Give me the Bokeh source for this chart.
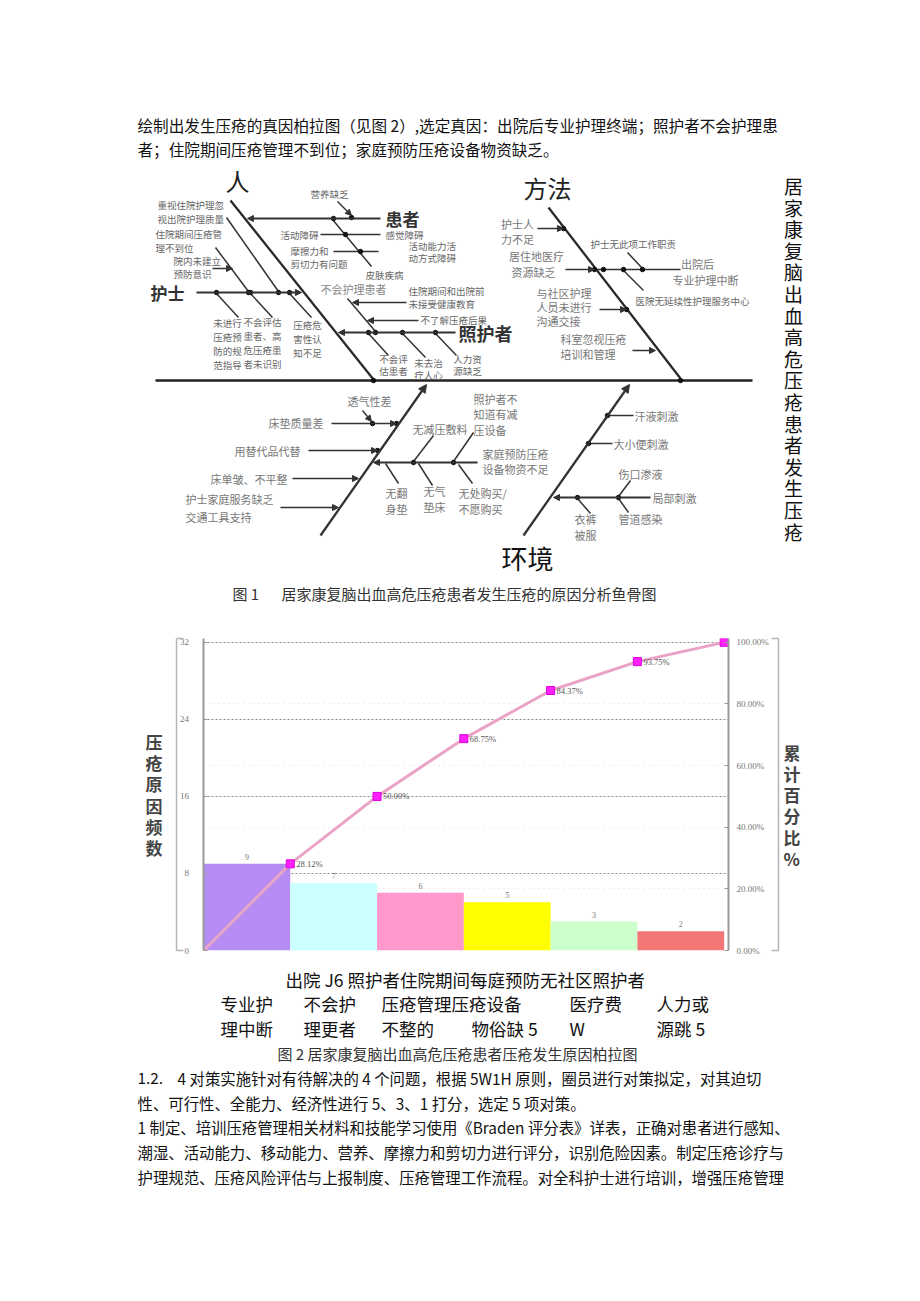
from bokeh.plotting import figure
from bokeh.layouts import column
from bokeh.models import (Range1d, LinearAxis, FixedTicker, PrintfTickFormatter,
                          Arrow, NormalHead, Grid)
from bokeh.core.properties import value
from bokeh.embed import file_html
from bokeh.resources import INLINE

CJK = "Noto Sans CJK SC"
SERIF = "Liberation Serif"

# ---------------- data ----------------
counts = [9, 7, 6, 5, 3, 2]
cum_pct = [28.12, 50.00, 68.75, 84.37, 93.75, 100.00]
cum_labels = ["28.12%", "50.00%", "68.75%", "84.37%", "93.75%", "100.00%"]
bar_colors = ["#b48cf2", "#ccffff", "#ff99cc", "#ffff00", "#ccffcc", "#f47777"]
left_ticks = [0, 8, 16, 24, 32]
right_ticks = [0, 20, 40, 60, 80, 100]
cat_row1 = "出院 J6 照护者住院期间每庭预防无社区照护者"
cat_row2 = ["专业护", "不会护", "压疮管理压疮设备", "医疗费", "人力或"]
cat_row3 = ["理中断", "理更者", "不整的", "物俗缺 5", "W", "源跳 5"]
left_title = "压疮原因频数"
right_title = "累计百分比%"

top_lines = ["绘制出发生压疮的真因柏拉图（见图 2）,选定真因：出院后专业护理终端；照护者不会护理患",
             "者；住院期间压疮管理不到位；家庭预防压疮设备物资缺乏。"]
fig1_caption = ["图 1", "居家康复脑出血高危压疮患者发生压疮的原因分析鱼骨图"]
fig2_caption = "图 2 居家康复脑出血高危压疮患者压疮发生原因柏拉图"
side_title = "居家康复脑出血高危压疮患者发生压疮"
bottom_lines = ["性、可行性、全能力、经济性进行 5、3、1 打分，选定 5 项对策。",
                "1 制定、培训压疮管理相关材料和技能学习使用《Braden 评分表》详表，正确对患者进行感知、",
                "潮湿、活动能力、移动能力、营养、摩擦力和剪切力进行评分，识别危险因素。制定压疮诊疗与",
                "护理规范、压疮风险评估与上报制度、压疮管理工作流程。对全科护士进行培训，增强压疮管理"]
bottom_first = ["1.2.", "4 对策实施针对有待解决的 4 个问题，根据 5W1H 原则，圈员进行对策拟定，对其迫切"]

W = 904


def canvas(top, bottom):
    p = figure(width=W, height=bottom - top, x_range=Range1d(0, W),
               y_range=Range1d(bottom, top), output_backend="svg",
               toolbar_location=None, x_axis_location=None, y_axis_location=None,
               min_border=0, outline_line_color=None, background_fill_color="white",
               frame_align=False)
    p.grid.visible = False
    return p


def txt(p, x, y, s, size, color="#111", align="left", bold=False, font=CJK):
    p.text(x=[x], y=[y], text=[s], text_font=value(font), text_font_size=f"{size}px",
           text_color=color, text_align=align, text_baseline="middle",
           text_font_style="bold" if bold else "normal")


def arrow(p, x0, y0, x1, y1, w=1.6, size=6):
    p.add_layout(Arrow(end=NormalHead(size=size, fill_color="#333", line_color="#333"),
                       x_start=x0, y_start=y0, x_end=x1, y_end=y1,
                       line_color="#333", line_width=w))


# ================= top part: text + fishbone =================
pa = canvas(0, 628)
txt(pa, 137, 124, top_lines[0], 15.6)
txt(pa, 137, 148, top_lines[1], 15.6)

# spine and bones
pa.segment(x0=[155], y0=[380], x1=[752], y1=[380], line_color="#222", line_width=2.6)
pa.segment(x0=[230, 548], y0=[200, 207], x1=[373, 680], y1=[379, 378],
           line_color="#2a2a2a", line_width=2.3)
arrow(pa, 320, 535, 426, 384, w=2.3, size=8)
arrow(pa, 523, 535, 629, 384, w=2.3, size=8)

# branches with arrowheads
for a in [(380, 218, 247, 218), (196, 292, 301, 292), (455, 332, 338, 332),
          (212, 268, 232, 268), (406, 302, 352, 302), (418, 320, 367, 320),
          (337, 201, 351, 215), (537, 228, 563, 228), (565, 269, 594, 269),
          (599, 309, 626, 309), (632, 350, 655, 350), (362, 410, 371, 421),
          (331, 423, 396, 423), (308, 450, 377, 450), (292, 478, 358, 478),
          (280, 507, 338, 507), (477, 462, 373, 462), (650, 497, 553, 497)]:
    arrow(pa, *a, w=1.8 if a[1] == a[3] and abs(a[2] - a[0]) > 80 else 1.4, size=6)

segs = [(332, 219, 371, 266), (320, 234, 380, 234), (333, 251, 378, 251),
        (226, 217, 278, 291), (215, 247, 248, 291),
        (216, 293, 238, 317), (250, 293, 272, 317), (289, 293, 311, 317),
        (347, 298, 375, 331),
        (368, 333, 388, 355), (402, 333, 425, 357), (435, 333, 456, 355),
        (596, 269, 680, 269), (627, 252, 642, 268), (623, 270, 643, 290),
        (433, 435, 413, 461), (473, 432, 453, 461),
        (385, 463, 398, 483), (418, 463, 432, 485), (458, 464, 472, 483),
        (607, 415, 633, 415), (588, 443, 612, 443),
        (630, 480, 618, 496), (618, 498, 628, 512), (577, 498, 590, 513)]
pa.segment(x0=[s[0] for s in segs], y0=[s[1] for s in segs],
           x1=[s[2] for s in segs], y1=[s[3] for s in segs],
           line_color="#333", line_width=1.5)

dots = [(373, 380), (680, 380), (351, 217), (345, 234), (360, 251), (278, 292), (248, 292),
        (216, 292), (250, 292), (289, 292), (375, 332), (368, 332), (402, 332), (435, 332),
        (563, 228), (594, 269), (603, 269), (623, 269), (642, 269), (626, 309),
        (372, 423), (396, 423), (377, 450), (413, 462), (453, 462), (607, 415),
        (588, 443), (618, 497), (577, 497), (333, 218)]
pa.scatter(x=[d[0] for d in dots], y=[d[1] for d in dots], size=4.5, color="#111")

# big category titles
txt(pa, 237, 180, "人", 24, "#222", "center")
txt(pa, 547, 187, "方法", 24, "#222", "center")
txt(pa, 527, 557, "环境", 26, "#111", "center")
txt(pa, 385, 218, "患者", 17, "#333", bold=True)
txt(pa, 150, 292, "护士", 17, "#333", bold=True)
txt(pa, 458, 332, "照护者", 18, "#333", bold=True)
txt(pa, 320, 288, "不会护理患者", 11, "#888")

G = "#666"
small = [
    ("营养缺乏", 310, 193, "left"), ("活动障碍", 318, 234, "right"), ("感觉障碍", 385, 234, "left"),
    ("摩擦力和", 290, 250, "left"), ("剪切力有问题", 290, 263, "left"),
    ("活动能力活", 408, 245, "left"), ("动方式障碍", 408, 257, "left"),
    ("皮肤疾病", 365, 274, "left"),
    ("重视住院护理忽", 157, 204, "left"), ("视出院护理质量", 157, 218, "left"),
    ("住院期间压疮管", 155, 233, "left"), ("理不到位", 155, 247, "left"),
    ("院内未建立", 173, 260, "left"), ("预防意识", 173, 273, "left"),
    ("未进行", 227, 322, "center"), ("压疮预", 227, 336, "center"),
    ("防的规", 227, 350, "center"), ("范指导", 227, 364, "center"),
    ("不会评估", 262, 321, "center"), ("患者、高", 262, 335, "center"),
    ("危压疮患", 262, 349, "center"), ("者未识别", 262, 363, "center"),
    ("压疮危", 307, 324, "center"), ("害性认", 307, 338, "center"), ("知不足", 307, 352, "center"),
    ("住院期间和出院前", 408, 290, "left"), ("未接受健康教育", 408, 303, "left"),
    ("不了解压疮后果", 420, 319, "left"),
    ("不会评", 393, 358, "center"), ("估患者", 393, 370, "center"),
    ("未去治", 428, 362, "center"), ("疗人心", 428, 374, "center"),
    ("人力资", 467, 358, "center"), ("源缺乏", 467, 370, "center"),
    ("护士无此项工作职责", 590, 243, "left"), ("医院无延续性护理服务中心", 635, 300, "left"),
]
for s, x, y, al in small:
    txt(pa, x, y, s, 9.5, G, al)

mid = [
    ("护士人", 517, 223, "center"), ("力不足", 517, 238, "center"),
    ("居住地医疗", 536, 255, "center"), ("资源缺乏", 533, 271, "center"),
    ("出院后", 697, 263, "center"), ("专业护理中断", 705, 279, "center"),
    ("与社区护理", 536, 292, "left"), ("人员未进行", 536, 306, "left"), ("沟通交接", 536, 320, "left"),
    ("科室忽视压疮", 560, 338, "left"), ("培训和管理", 560, 353, "left"),
    ("透气性差", 347, 400, "left"), ("床垫质量差", 323, 422, "right"),
    ("用替代品代替", 300, 450, "right"), ("床单皱、不平整", 287, 478, "right"),
    ("护士家庭服务缺乏", 185, 498, "left"), ("交通工具支持", 185, 516, "left"),
    ("无减压敷料", 412, 428, "left"),
    ("照护者不", 473, 398, "left"), ("知道有减", 473, 413, "left"), ("压设备", 473, 429, "left"),
    ("家庭预防压疮", 482, 453, "left"), ("设备物资不足", 482, 468, "left"),
    ("无翻", 396, 492, "center"), ("身垫", 396, 508, "center"),
    ("无气", 434, 490, "center"), ("垫床", 434, 506, "center"),
    ("无处购买/", 458, 492, "left"), ("不愿购买", 458, 508, "left"),
    ("汗液刺激", 634, 415, "left"), ("大小便刺激", 613, 443, "left"),
    ("局部刺激", 652, 497, "left"), ("伤口渗液", 618, 473, "left"),
    ("管道感染", 618, 518, "left"), ("衣裤", 585, 518, "center"), ("被服", 585, 534, "center"),
]
for s, x, y, al in mid:
    txt(pa, x, y, s, 11, "#777", al)

# vertical side title
for i, ch in enumerate(side_title):
    txt(pa, 793, 185 + i * 21.6, ch, 19, "#111", "center")

txt(pa, 232, 593, fig1_caption[0], 15, "#333")
txt(pa, 281, 593, fig1_caption[1], 15, "#333")

# ================= Pareto chart =================
# frame: page x 203..728, page y 638..950
pb = figure(width=W, height=338, x_range=Range1d(0, 6.05), y_range=Range1d(0, 32.4),
            output_backend="svg", toolbar_location=None, x_axis_location=None,
            min_border_left=203, min_border_right=W - 728, min_border_top=10, min_border_bottom=16,
            outline_line_color=None, frame_align=False)
pb.extra_y_ranges = {"pct": Range1d(0, 32.4 / 32 * 100)}

ax = pb.yaxis[0]
ax.ticker = FixedTicker(ticks=left_ticks)
ax.formatter = PrintfTickFormatter(format="  %d")
raxis = LinearAxis(y_range_name="pct", ticker=FixedTicker(ticks=right_ticks),
                   formatter=PrintfTickFormatter(format="%.2f%%   "))
pb.add_layout(raxis, "right")
for a in (ax, raxis):
    a.axis_line_color = "#9a9a9a"
    a.axis_line_width = 2
    a.major_tick_in = 4
    a.major_tick_out = 0
    a.major_tick_line_color = "#999"
    a.minor_tick_line_color = None
    a.major_label_text_font = SERIF
    a.major_label_text_font_size = "9px"
    a.major_label_text_color = "#777"
    a.major_label_standoff = 8
ax.major_label_standoff = 10

# outer axes: draw the light bracket frame and carry the stacked titles
outer_l = LinearAxis(ticker=FixedTicker(ticks=[0, 32.4]), axis_label="\n".join(left_title))
outer_r = LinearAxis(ticker=FixedTicker(ticks=[0, 32.4]), axis_label="\n" + "\n".join(right_title))
pb.add_layout(outer_l, "left")
pb.add_layout(outer_r, "right")
for a, so in ((outer_l, 14), (outer_r, 5)):
    a.axis_line_color = "#b5b5b5"
    a.axis_line_width = 1.5
    a.major_tick_in = 7
    a.major_tick_out = 0
    a.major_tick_line_color = "#b5b5b5"
    a.major_tick_line_width = 1.5
    a.minor_tick_line_color = None
    a.major_label_overrides = {0: "", 32.4: ""}
    a.major_label_standoff = 0
    a.axis_label_orientation = "horizontal"
    a.axis_label_text_font = CJK
    a.axis_label_text_font_size = "17px"
    a.axis_label_text_font_style = "bold"
    a.axis_label_text_color = "#444"
    a.axis_label_text_line_height = 0.85
    a.axis_label_standoff = so

pb.xgrid.visible = False
pb.ygrid.ticker = FixedTicker(ticks=left_ticks)
pb.ygrid.grid_line_color = "#888"
pb.ygrid.grid_line_dash = "2 2"
pb.ygrid.grid_line_width = 1
pb.add_layout(Grid(dimension=1, ticker=FixedTicker(ticks=[20, 40, 60, 80]), y_range_name="pct",
                   grid_line_color="#dddddd", grid_line_dash="1 4"))

centers = [i + 0.5 for i in range(len(counts))]
pb.vbar(x=centers, top=counts, width=1.0, fill_color=bar_colors, line_color=None)
pb.text(x=centers, y=counts, text=[str(c) for c in counts], text_align="center",
        text_baseline="bottom", y_offset=-4, text_font=value(SERIF),
        text_font_size="8px", text_color="#777")

edges = list(range(len(counts) + 1))
pb.line(x=edges, y=[0] + cum_pct, y_range_name="pct", line_color="#eaa2c6", line_width=3)
pb.scatter(x=edges[1:], y=cum_pct, y_range_name="pct", marker="square", size=8,
           fill_color="#ff22ff", line_color="#dd00dd")
pb.text(x=edges[1:-1], y=cum_pct[:-1], text=cum_labels[:-1], y_range_name="pct",
        x_offset=6, text_baseline="middle", text_font=value(SERIF),
        text_font_size="8.5px", text_color="#555")

# ================= bottom part =================
pc = canvas(966, 1293)
txt(pc, 285, 979, cat_row1, 17.5, "#111")
for s, x in zip(cat_row2, [220, 303, 381, 569, 656]):
    txt(pc, x, 1003, s, 17.5, "#111")
for s, x in zip(cat_row3, [220, 303, 381, 471, 569, 656]):
    txt(pc, x, 1028, s, 17.5, "#111")
txt(pc, 277, 1053, fig2_caption, 15, "#333")

txt(pc, 137, 1077, bottom_first[0], 15.4)
txt(pc, 177, 1077, bottom_first[1], 15.4)
for i, s in enumerate(bottom_lines):
    txt(pc, 137, 1102 + i * 24.7, s, 15.4)

layout = column(pa, pb, pc, spacing=0)
open("out.html", "w").write(file_html(layout, INLINE))
